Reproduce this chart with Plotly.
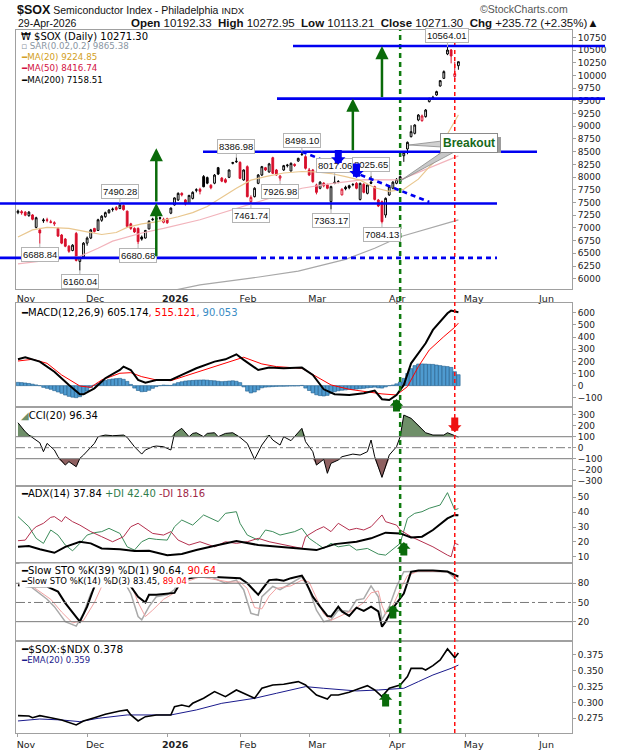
import numpy as np
import pandas as pd
import plotly.graph_objects as go
from plotly.subplots import make_subplots

# trading calendar (weekends and market holidays are skipped on the axis)
holidays = ["2025-11-27", "2025-12-25", "2026-01-01", "2026-01-19",
            "2026-02-16", "2026-04-03", "2026-05-25"]
dates = pd.bdate_range("2025-11-03", "2026-04-29", freq="C", holidays=holidays)

month_ticks = ["2025-11-03", "2025-12-01", "2026-01-02", "2026-02-02",
               "2026-03-02", "2026-04-01", "2026-05-01", "2026-06-01"]
month_labels = ["Nov", "Dec", "<b>2026</b>", "Feb", "Mar", "Apr", "May", "Jun"]

# daily OHLC, Nov | Dec | Jan | Feb | Mar | Apr
opens = [7300, 7320, 7310, 7240, 7255, 7010, 6960, 7140, 7160, 7120, 7080, 6990, 6860, 6780, 6640, 6555, 6890, 6340, 6430,
         6700, 6800, 6990, 6950, 7150, 7220, 7300, 7360, 7400, 7380, 7440, 7330, 7080, 6990, 6990, 6820, 6800, 6980, 7160, 7170, 7200, 7110,
         7180, 7290, 7450, 7550, 7680, 7550, 7480, 7580, 7740, 7760, 8010, 7990, 7840, 7880, 8185, 7980, 7950, 7995, 8270, 8300,
         8290, 7943, 8205, 7516, 7615, 7877, 8041, 8185, 8100, 8382, 8140, 7980, 8140, 8225, 8120, 8250, 8316, 8440, 8402,
         8140, 8140, 7845, 7780, 7880, 7850, 7517, 7900, 7905, 7650, 7800, 7830, 7850, 7877, 7560, 7860, 7680, 7900, 7812, 7549, 7517, 7254,
         7648, 7780, 7877, 7910, 8420, 8553, 8796, 8861, 9124, 9111, 9190, 9485, 9560, 9616, 9793, 9944, 10423, 10501, 9980, 10192.33]
highs = [7360, 7350, 7330, 7330, 7270, 7220, 7000, 7190, 7200, 7160, 7130, 7010, 6880, 6800, 6660, 6680, 6920, 6440, 6720,
         6830, 6980, 7000, 7180, 7250, 7320, 7370, 7400, 7430, 7490.28, 7460, 7340, 7100, 7010, 7010, 6850, 6960, 7150, 7200, 7200, 7220, 7200,
         7200, 7400, 7600, 7700, 7700, 7570, 7650, 7720, 7780, 7790, 8040, 8010, 7860, 8060, 8200, 8000, 7980, 8150, 8300, 8386.98,
         8310, 8150, 8230, 7640, 7800, 8060, 8220, 8200, 8280, 8400, 8160, 8040, 8240, 8260, 8290, 8270, 8380, 8498.10, 8430,
         8180, 8160, 7870, 7920, 7900, 7870, 7830, 8017.06, 7940, 7780, 7830, 7850, 7880, 7900, 7890, 7880, 7860, 8025.65, 7830, 7570, 7540, 7600,
         7830, 7920, 7980, 8030, 8510, 8700, 9020, 9040, 9240, 9230, 9340, 9560, 9600, 9700, 9910, 10100, 10564.01, 10520, 10270, 10272.95]
lows = [7270, 7260, 7230, 7220, 7150, 6990, 6688.84, 7100, 7110, 7090, 7040, 6820, 6680, 6620, 6510, 6540, 6340, 6160.04, 6410,
        6650, 6780, 6910, 6940, 7120, 7200, 7280, 7320, 7340, 7370, 7340, 7000, 6960, 6900, 6680.68, 6750, 6790, 6970, 7140, 7150, 7160, 7090,
        7080, 7270, 7440, 7530, 7620, 7440, 7470, 7560, 7700, 7660, 7800, 7860, 7760, 7860, 8040, 7900, 7880, 7980, 8250, 8280,
        7960, 7930, 7600, 7461.74, 7600, 7860, 8020, 8120, 8090, 8060, 8030, 7926.98, 8120, 8190, 8110, 8200, 8300, 8420, 8150,
        8020, 7890, 7660, 7760, 7800, 7760, 7363.17, 7860, 7880, 7640, 7740, 7760, 7820, 7760, 7540, 7680, 7660, 7860, 7540, 7410, 7084.13, 7200,
        7630, 7760, 7860, 7900, 8300, 8450, 8780, 8840, 9100, 9090, 9170, 9470, 9520, 9600, 9780, 9930, 10400, 10239, 9920, 10113.21]
closes = [7330, 7300, 7250, 7310, 7170, 7200, 6900, 7155, 7150, 7110, 7100, 6840, 6700, 6640, 6540, 6660, 6360, 6420, 6700,
          6800, 6960, 6930, 7160, 7230, 7300, 7350, 7370, 7360, 7450, 7360, 7030, 6990, 6920, 6730, 6780, 6950, 7130, 7170, 7185, 7190, 7170,
          7100, 7390, 7590, 7680, 7650, 7470, 7640, 7700, 7750, 7720, 7810, 7880, 7790, 8040, 8060, 7920, 7900, 8140, 8285, 8310,
          7975, 8140, 7615, 7600, 7780, 8041, 8205, 8140, 8260, 8074, 8041, 8020, 8225, 8235, 8270, 8230, 8369, 8450, 8173,
          8041, 7910, 7700, 7900, 7830, 7780, 7812, 7880, 7910, 7760, 7770, 7790, 7855, 7780, 7877, 7700, 7845, 7880, 7560, 7431, 7123, 7582,
          7812, 7900, 7956, 8009, 8480, 8684, 8894, 9025, 9222, 9203, 9320, 9550, 9570, 9682, 9898, 10075, 10501, 10383, 10035.58, 10271.30]

# moving averages (trading-day index, value)
ma20_days = [0, 4, 8, 14, 19, 23, 27, 30, 34, 38, 44, 48, 52, 56, 60, 64, 68, 73, 78, 82, 86, 90, 94, 98, 102, 106, 110, 113, 115, 118, 121]
ma20_vals = [6820, 6960, 7010, 6990, 6920, 6870, 6910, 7010, 7080, 7120, 7220, 7300, 7420, 7600, 7780, 7940, 8010, 8080, 8110, 8100,
             8070, 8010, 7940, 7790, 7720, 7760, 7960, 8200, 8340, 8850, 9224.85]
ma50_days = [0, 10, 17, 22, 26, 34, 40, 50, 60, 68, 78, 86, 95, 105, 112, 117, 121]
ma50_vals = [6290, 6370, 6440, 6600, 6740, 6900, 6990, 7160, 7380, 7570, 7780, 7870, 7950, 7945, 8150, 8300, 8416.74]
ma200_days = [42, 50, 64, 77, 90, 98, 105, 113, 121]
ma200_vals = [5760, 5877, 6010, 6150, 6380, 6600, 6827, 7000, 7158.51]

# MACD(12,26,9)
macd_days = [0, 2, 6, 10, 14, 17, 18, 21, 24, 28, 29, 31, 33, 35, 38, 42, 45, 49, 54, 57, 60, 62, 66, 69, 73, 78, 81, 84, 87, 91,
             95, 98, 100, 102, 104, 106, 108, 112, 114, 118, 119, 121]
macd_vals = [217, 234, 198, 115, 6, -71, -71, -22, 61, 129, 157, 129, 47, 25, 47, 47, 88, 143, 198, 217, 258, 212, 129, 149, 143,
             149, 88, -30, -71, -77, -63, -41, -112, -118, -77, 6, 184, 349, 459, 596, 618, 605.174]
signal_days = [0, 4, 8, 12, 17, 20, 23, 28, 31, 34, 38, 42, 46, 51, 58, 62, 67, 71, 78, 82, 86, 91, 96, 100, 104, 107, 110, 113,
               117, 120, 121]
signal_vals = [203, 217, 184, 88, -3, -14, 47, 102, 107, 74, 47, 41, 80, 129, 198, 234, 179, 157, 143, 74, 6, -30, -49, -68, -77,
               -8, 157, 294, 404, 481, 515.121]
macd_hist = [27, 25, 22, 18, 12, 6, 0, -14, -22, -30, -41, -52, -63, -77, -88, -95, -99, -91, -70, -45, -15,
             5, 20, 33, 42, 50, 55, 58, 60, 52, 35, 10, -20, -40, -50, -48, -38, -22, -8, 0, 5, 3, 2,
             15, 25, 32, 38, 41, 43, 45, 46, 47, 45, 42, 40, 36, 33, 35, 38, 40, 36, 25,
             -10, -45, -60, -52, -35, -18, -12, -10, -8, -6, -5, -5, -4, -3, -3, -2, 2,
             -20, -40, -60, -75, -82, -85, -80, -65, -50, -42, -38, -35, -30, -32, -28, -25, -22, -18,
             -15, -12, -18, -20, -10, 0, 5, 15, 30, 60, 100, 140, 165, 178, 179, 178, 176, 175,
             170, 165, 160, 157, 150, 115, 90.053]

# CCI(20)
cci_days = [0, 2, 3, 5, 6, 7, 8, 9, 10, 11, 13, 14, 16, 17, 18, 21, 22, 24, 26, 29, 30, 32, 34, 35, 37, 38, 40, 42, 43, 45, 47,
            48, 49, 51, 52, 54, 55, 57, 59, 61, 63, 65, 67, 69, 70, 72, 73, 75, 76, 78, 79, 81, 82, 84, 85, 86, 88, 89, 92, 94,
            96, 97, 98, 100, 102, 104, 105, 106, 108, 110, 112, 114, 117, 118, 120, 121]
cci_vals = [227, 145, 115, 70, 45, -36, 39, 9, -21, -82, -158, -127, -173, -97, -67, 39, 100, 115, 109, 115, 94, 9, -58, -21, 9,
            15, 9, -21, 130, 176, 100, 130, 136, 100, 130, 136, 100, 130, 136, 94, 39, -106, 24, 115, 70, 24, 100, 64, 100, 176,
            55, -36, -158, -106, -233, -142, -112, -82, -58, -67, -36, 70, -82, -270, -67, 9, 100, 297, 267, 206, 136, 115, 115,
            136, 106, 96.34]

# ADX(14), +DI, -DI
adx_days = [0, 3, 6, 10, 13, 17, 20, 23, 28, 32, 36, 41, 45, 49, 55, 60, 66, 71, 76, 82, 87, 93, 97, 101, 105, 108, 111, 114,
            118, 120, 121]
adx_vals = [16.7, 17.2, 15, 12.7, 16.7, 20.1, 19, 15.6, 15, 13.8, 14, 11.1, 11.8, 14.5, 17.9, 20.6, 17.9, 16.7, 15.6, 14.5, 18.5,
            20.1, 22.4, 26.2, 25.7, 23, 23.5, 28, 35.8, 38.1, 37.84]
pdi_days = [0, 3, 5, 7, 9, 11, 13, 15, 17, 19, 21, 23, 25, 28, 30, 32, 34, 36, 38, 41, 43, 45, 48, 51, 55, 57, 60, 61, 63, 66,
            68, 70, 72, 74, 76, 78, 80, 82, 84, 86, 88, 91, 93, 96, 99, 101, 104, 105, 107, 109, 111, 113, 116, 118, 120, 121]
pdi_vals = [37, 30.2, 22.4, 19, 28, 24.6, 17.9, 14, 19, 24.6, 26.2, 26.9, 29.1, 25.7, 16.7, 14.5, 20.1, 22.4, 21.7, 21.2, 30.2,
            34.7, 31.3, 38.1, 33.6, 39.2, 40.3, 32.5, 24.6, 21.2, 28, 26.9, 24.6, 25.7, 26.9, 29.1, 22.4, 19, 15.6, 19, 16.7, 17.9,
            14.5, 15.6, 11.8, 11.1, 16.7, 19, 35.8, 39.2, 40.3, 42.6, 44.8, 53.1, 41.5, 42.40]
mdi_days = [0, 2, 4, 5, 7, 9, 10, 12, 13, 15, 17, 20, 23, 26, 29, 31, 33, 35, 37, 40, 42, 44, 47, 50, 54, 57, 60, 63, 66, 69,
            73, 78, 79, 82, 84, 86, 88, 91, 93, 95, 97, 100, 101, 104, 105, 108, 111, 114, 118, 119, 120, 121]
mdi_vals = [20.8, 21.2, 28, 30.2, 32.5, 36.5, 37, 33.6, 37, 33.6, 31.3, 26.9, 23.5, 20.1, 23.5, 30.2, 32.5, 29.1, 25.7, 24.6,
            26.9, 21.2, 17.9, 20.1, 16.7, 20.1, 19, 20.1, 22.4, 20.1, 17.9, 15.6, 23.5, 28, 30.2, 26.9, 32.5, 28, 29.1, 28, 30.2,
            38.1, 33.6, 31.3, 28, 23.5, 20.1, 16.7, 11.1, 10, 19, 18.16]

# Slow stochastics
sto39_days = [0, 3, 8, 11, 13, 16, 17, 19, 21, 24, 27, 31, 33, 35, 36, 38, 41, 43, 45, 49, 54, 58, 61, 63, 66, 67, 69, 71, 73,
              75, 78, 79, 81, 83, 85, 86, 88, 89, 91, 93, 95, 97, 99, 100, 101, 103, 104, 106, 108, 110, 114, 118, 120, 121]
sto39_vals = [77, 75, 75, 67, 49, 28, 20, 43.5, 75, 92, 92, 75, 59, 50, 62, 62, 64, 65, 85, 90, 90, 89, 88, 80, 62, 70, 85, 86,
              84, 88, 92, 83, 59, 43.5, 29, 28, 43.5, 36, 29, 42, 37, 43.5, 36, 12, 20, 41, 49, 64, 98, 99.8, 99.8, 98.3, 93, 90.64]
stok_days = [0, 3, 8, 10, 13, 16, 18, 20, 22, 24, 28, 31, 33, 34, 36, 38, 41, 43, 44, 49, 53, 57, 60, 62, 64, 66, 67, 70, 72,
             74, 78, 80, 82, 84, 86, 88, 91, 93, 95, 97, 99, 100, 102, 104, 106, 110, 118, 120, 121]
stok_vals = [80, 77, 55, 43.5, 20, 13, 33, 64, 83, 95, 95, 64, 28, 23, 43.5, 59, 62, 70, 85, 90, 90, 80, 85, 70, 33, 30, 59, 75,
             70, 77, 90, 70, 38, 20, 23, 38, 36, 54, 56, 76, 59, 23, 43.5, 75, 98, 99, 98, 88, 83.45]
stod_days = [0, 4, 9, 12, 15, 18, 21, 23, 26, 31, 33, 35, 37, 40, 43, 45, 50, 58, 61, 63, 65, 67, 69, 71, 75, 78, 80, 82, 84,
             86, 89, 92, 95, 97, 99, 100, 101, 103, 105, 107, 110, 118, 120, 121]
stod_vals = [78, 75, 55, 35, 18, 22, 50, 75, 92, 80, 50, 28, 38, 55, 65, 80, 90, 82, 82, 72, 42, 40, 60, 72, 76, 85, 82, 58, 32,
             22, 30, 38, 50, 65, 68, 45, 32, 45, 70, 92, 99, 98, 94, 89.04]

# $SOX:$NDX ratio and its EMA(20)
ratio_days = [0, 3, 4, 6, 9, 12, 16, 18, 21, 24, 28, 30, 31, 33, 35, 38, 42, 43, 45, 47, 48, 51, 54, 56, 57, 60, 62, 65, 67, 70,
              73, 77, 79, 82, 85, 86, 88, 91, 94, 96, 98, 100, 102, 105, 107, 108, 111, 112, 114, 116, 118, 120, 121]
ratio_vals = [0.2792, 0.2787, 0.276, 0.2792, 0.276, 0.2724, 0.2645, 0.2708, 0.276, 0.2813, 0.2866, 0.2882, 0.2803, 0.2708,
              0.2776, 0.2803, 0.2803, 0.2934, 0.2961, 0.2934, 0.2987, 0.3066, 0.3171, 0.3118, 0.3092, 0.3197, 0.3145, 0.3066,
              0.3224, 0.3276, 0.3287, 0.3329, 0.3276, 0.3118, 0.3055, 0.3118, 0.3118, 0.3161, 0.3224, 0.3266, 0.3197, 0.3092,
              0.3224, 0.3276, 0.3408, 0.3539, 0.3539, 0.3513, 0.3582, 0.3671, 0.3845, 0.3708, 0.378]
ema_days = [0, 6, 12, 17, 22, 30, 42, 49, 56, 65, 71, 79, 84, 93, 99, 106, 110, 114, 119, 121]
ema_vals = [0.2708, 0.2739, 0.2724, 0.2697, 0.275, 0.2803, 0.2803, 0.2882, 0.2987, 0.3066, 0.3145, 0.325, 0.3224, 0.3182,
            0.3197, 0.3224, 0.3329, 0.3434, 0.3539, 0.359]

# trend lines drawn on the chart
support_levels = [10580, 9545, 8498, 7480, 6410]
measured_moves = [(38, 6410, 7490), (38, 7490, 8570), (92, 8498, 9545), (100, 9545, 10580)]
high_labels = [28, 60, 78, 87, 97, 118]
low_labels = [6, 17, 33, 64, 72, 86, 100]

FONT = "DejaVu Sans"
ARIAL = "Liberation Sans"
BLUE = "#0000f0"
GREEN = "#0a6b0a"


def px(x):  # pixel -> paper (plot area is x 16..572, y 30..733)
    return (x - 16) / 556


def py(y):
    return (733 - y) / 703


def d(days):
    return dates[np.array(days)]


fig = make_subplots(rows=6, cols=1, shared_xaxes=True, vertical_spacing=0)

# ---- price panel
o, h, l, c = map(np.array, (opens, highs, lows, closes))
prev = np.r_[c[0], c[:-1]]
up = c >= prev
for mask, col in [(up, "#000000"), (~up, "#d8102c")]:
    fig.add_trace(go.Candlestick(x=dates[mask], open=o[mask], high=h[mask], low=l[mask], close=c[mask],
                                 increasing=dict(line=dict(color=col, width=1), fillcolor="white"),
                                 decreasing=dict(line=dict(color=col, width=1), fillcolor=col),
                                 whiskerwidth=0, hoverinfo="skip", showlegend=False), row=1, col=1)
for days, vals, col in [(ma200_days, ma200_vals, "#a8a8a8"), (ma50_days, ma50_vals, "#f2b4bc"),
                        (ma20_days, ma20_vals, "#e9c78f")]:
    fig.add_trace(go.Scatter(x=d(days), y=vals, mode="lines", line=dict(color=col, width=1.2),
                             hoverinfo="skip", showlegend=False), row=1, col=1)

# ---- MACD
fig.add_trace(go.Bar(x=dates, y=macd_hist, marker=dict(color="#4f9bd0", line=dict(color="#1f5d8c", width=0.6)),
                     hoverinfo="skip", showlegend=False), row=2, col=1)
fig.add_trace(go.Scatter(x=d(signal_days), y=signal_vals, mode="lines", line=dict(color="#ff0000", width=1),
                         hoverinfo="skip", showlegend=False), row=2, col=1)
fig.add_trace(go.Scatter(x=d(macd_days), y=macd_vals, mode="lines", line=dict(color="black", width=2),
                         hoverinfo="skip", showlegend=False), row=2, col=1)

# ---- CCI
cci = np.array(cci_vals, dtype=float)
cx = d(cci_days)
for base, band, col in [(100, np.maximum(cci, 100), "#6f8f69"), (-100, np.minimum(cci, -100), "#8e6060")]:
    fig.add_trace(go.Scatter(x=cx, y=[base] * len(cx), mode="lines", line=dict(width=0),
                             hoverinfo="skip", showlegend=False), row=3, col=1)
    fig.add_trace(go.Scatter(x=cx, y=band, mode="lines", line=dict(width=0), fill="tonexty", fillcolor=col,
                             hoverinfo="skip", showlegend=False), row=3, col=1)
fig.add_trace(go.Scatter(x=cx, y=cci, mode="lines", line=dict(color="black", width=1),
                         hoverinfo="skip", showlegend=False), row=3, col=1)

# ---- ADX
for days, vals, col, w in [(pdi_days, pdi_vals, "#3c8c5a", 1), (mdi_days, mdi_vals, "#b4304e", 1),
                           (adx_days, adx_vals, "black", 2)]:
    fig.add_trace(go.Scatter(x=d(days), y=vals, mode="lines", line=dict(color=col, width=w),
                             hoverinfo="skip", showlegend=False), row=4, col=1)

# ---- Slow STO
for days, vals, col, w in [(stok_days, stok_vals, "#a9a9a9", 1.5), (stod_days, stod_vals, "#f2a2a2", 1),
                           (sto39_days, sto39_vals, "black", 2)]:
    fig.add_trace(go.Scatter(x=d(days), y=vals, mode="lines", line=dict(color=col, width=w),
                             hoverinfo="skip", showlegend=False), row=5, col=1)

# ---- ratio
fig.add_trace(go.Scatter(x=d(ema_days), y=ema_vals, mode="lines", line=dict(color="#1a1a8c", width=1),
                         hoverinfo="skip", showlegend=False), row=6, col=1)
fig.add_trace(go.Scatter(x=d(ratio_days), y=ratio_vals, mode="lines", line=dict(color="black", width=1.6),
                         hoverinfo="skip", showlegend=False), row=6, col=1)

# ---- axes
fig.update_xaxes(type="date", range=["2025-10-31 11:00", "2026-06-12 05:00"],
                 rangebreaks=[dict(bounds=["sat", "mon"]), dict(values=holidays)],
                 rangeslider_visible=False, showgrid=False, zeroline=False,
                 showline=True, mirror=True, linecolor="#a0a0a0", linewidth=1,
                 tickvals=month_ticks, ticktext=month_labels, ticks="", showticklabels=False,
                 ticklabelshift=8, tickfont=dict(family=FONT, size=9.5, color="#222"))
fig.update_xaxes(showticklabels=True, row=1, col=1)
fig.update_xaxes(showticklabels=True, ticks="outside", ticklen=3, tickcolor="#a0a0a0", row=6, col=1)

axis_specs = [
    (1, [0.6309, 1.0], [5788, 10895], list(range(6000, 10751, 250)), "d"),
    (2, [0.4637, 0.6117], [-176, 681], list(range(-100, 601, 100)), "d"),
    (3, [0.3514, 0.4637], [-348, 370], list(range(-300, 301, 100)), "d"),
    (4, [0.2418, 0.3514], [5.8, 57.6], [10, 20, 30, 40, 50], "d"),
    (5, [0.1309, 0.2418], [-10.2, 111.7], [20, 50, 80], "d"),
    (6, [0.0, 0.1309], [0.2518, 0.3971], [0.275, 0.3, 0.325, 0.35, 0.375], ".3f"),
]
for r, dom, rng, tv, fmt in axis_specs:
    fig.update_yaxes(domain=dom, range=rng, tickvals=tv, tickformat=fmt, side="right",
                     showgrid=False, zeroline=False, showline=True, mirror=True,
                     linecolor="#a0a0a0", linewidth=1, ticks="outside", ticklen=3, tickcolor="#a0a0a0",
                     tickfont=dict(family=FONT, size=9, color="#222"), row=r, col=1)

# reference lines in CCI and STO panels
for y, dash in [(100, "solid"), (-100, "solid"), (0, "dashdot")]:
    fig.add_hline(y=y, line=dict(color="#7a7a7a", width=1, dash=dash), row=3, col=1)
for y, dash in [(80, "solid"), (20, "solid"), (50, "dashdot")]:
    fig.add_hline(y=y, line=dict(color="#7a7a7a", width=1, dash=dash), row=5, col=1)

# vertical event lines across all panels
fig.add_shape(type="line", xref="x", yref="paper", x0=dates[105], x1=dates[105], y0=0, y1=1.0,
              line=dict(color="#0f7a0f", width=2.5, dash="5px,4px"))
fig.add_shape(type="line", xref="x", yref="paper", x0=dates[120], x1=dates[120], y0=0, y1=0.985,
              line=dict(color="#ff1010", width=1.5, dash="4px,3px"))

# support / resistance lines
extents = [(293, 605), (277, 605), (203, 537), (0, 497), (0, 252)]
for lvl, (x0, x1) in zip(support_levels, extents):
    fig.add_shape(type="line", xref="paper", yref="y", x0=px(x0), x1=px(x1), y0=lvl, y1=lvl,
                  line=dict(color=BLUE, width=2.6))
fig.add_shape(type="line", xref="paper", yref="y", x0=px(252), x1=px(497), y0=support_levels[-1],
              y1=support_levels[-1], line=dict(color=BLUE, width=2.6, dash="5px,4px"))
# falling trend line from the Feb high
fig.add_shape(type="line", xref="x", yref="y", x0=dates[78], x1=dates[113], y0=highs[78], y1=7510,
              line=dict(color=BLUE, width=2.6, dash="5px,4px"))

ann = []

# high / low value tags (drawn first so the arrows sit on top of them)
box = dict(bgcolor="white", bordercolor="#b4b4b4", borderwidth=1, borderpad=1,
           font=dict(family=ARIAL, size=9.5, color="#111"), showarrow=True, arrowhead=0,
           arrowwidth=1, arrowcolor="#b4b4b4", xref="x", yref="y", ax=0)
for i in high_labels:
    ann.append(dict(box, x=dates[i], y=highs[i], ay=-11, text=f"{highs[i]:.2f}"))
for i in low_labels:
    ann.append(dict(box, x=dates[i], y=lows[i], ay=11, text=f"{lows[i]:.2f}"))

# measured-move arrows
for day, y0, y1 in measured_moves:
    ann.append(dict(x=dates[day], y=y1, ax=dates[day], ay=y0, xref="x", yref="y", axref="x", ayref="y",
                    text="", showarrow=True, arrowhead=2, arrowsize=1.05, arrowwidth=2.5, arrowcolor=GREEN))


def block_arrow(day, y, yref, dy, color, w=7, size=0.32):
    ann.append(dict(x=dates[day], y=y, xref="x", yref=yref, ax=0, ay=dy, text="", showarrow=True,
                    arrowhead=1, arrowsize=size, arrowwidth=w, arrowcolor=color))


block_arrow(88, 8250, "y", -16, BLUE, 7, 0.34)
block_arrow(93, 7980, "y", -16, BLUE, 7, 0.34)
block_arrow(104, -110, "y2", 14, GREEN)
block_arrow(120, 143, "y3", -16, "#ee1111")
block_arrow(106, 19.9, "y4", 15, GREEN)
block_arrow(103, 46, "y5", 15, GREEN)
block_arrow(101, 0.315, "y6", 15, GREEN)

# breakout call-out
fig.add_shape(type="path", xref="paper", yref="paper", layer="above",
              path=f"M{px(409)},{py(145)} L{px(442)},{py(141)} L{px(442)},{py(147)} Z",
              fillcolor="#d0d0d0", line=dict(color="#8a8a8a", width=0.8))
fig.add_shape(type="path", xref="paper", yref="paper", layer="above",
              path=f"M{px(400)},{py(181)} L{px(445)},{py(150)} L{px(458)},{py(150)} Z",
              fillcolor="#c8c8c8", line=dict(color="#8a8a8a", width=0.8))
fig.add_shape(type="rect", xref="paper", yref="paper", layer="above",
              x0=px(443), x1=px(501), y0=py(153), y1=py(137), fillcolor="#9c9c9c", line=dict(width=0))
ann.append(dict(x=px(469), y=py(143), xref="paper", yref="paper", xanchor="center", yanchor="middle",
                text="<b>Breakout</b>", showarrow=False,
                font=dict(family=ARIAL, size=12, color="#17691a"), bgcolor="white",
                bordercolor="#8a8a8a", borderwidth=1, borderpad=2))


def label(x, y, text, size=10, color="black", family=FONT, anchor="left", bg=None):
    a = dict(x=px(x), y=py(y), xref="paper", yref="paper", text=text, showarrow=False,
             xanchor=anchor, yanchor="middle", font=dict(family=family, size=size, color=color))
    if bg:
        a["bgcolor"] = bg
    ann.append(a)


# header
label(15, 9.5, "<span style='font-size:12.5px'><b>$SOX</b></span> Semiconductor Index - Philadelphia "
               "<span style='font-size:9.5px'>INDX</span>", size=10.5, family=ARIAL, color="#111")
label(570, 9, "©StockCharts.com", size=10.5, family=ARIAL, color="#555", anchor="right")
label(16, 23.5, "29-Apr-2026", size=10.5, family=ARIAL, color="#111")
label(601, 23.5, "<b>Open</b> 10192.33  <b>High</b> 10272.95  <b>Low</b> 10113.21  <b>Close</b> 10271.30  "
                 "<b>Chg</b> +235.72 (+2.35%)▲", size=11.5, family=ARIAL, color="#111", anchor="right")

# panel legends
label(19, 36, "₩ $SOX (Daily) 10271.30", size=10)
label(19, 46.5, "▫ SAR(0.02,0.2) 9865.38", size=8.7, color="#8a96a3")
label(19, 57.5, "<b>━</b>MA(20) 9224.85", size=8.7, color="#d3a024")
label(19, 68.5, "<b>━</b>MA(50) 8416.74", size=8.7, color="#d21042")
label(19, 79.5, "<b>━</b>MA(200) 7158.51", size=8.7, color="black")
label(19, 312, "<b>━</b>MACD(12,26,9) 605.174<span style='color:#ff0000'>, 515.121</span>"
               "<span style='color:#3a8cc4'>, 90.053</span>", size=10)
label(19, 415, "<span style='color:#6f8f69'>◢</span>CCI(20) 96.34", size=10)
label(19, 493, "<b>━</b>ADX(14) 37.84 <span style='color:#2f7d4c'>+DI 42.40</span> "
               "<span style='color:#a02848'>-DI 18.16</span>", size=10)
label(19, 570, "<b>━</b>Slow STO %K(39) %D(1) 90.64, <span style='color:#ff0000'>90.64</span>", size=10, bg="white")
label(19, 580.5, "<b>━</b>Slow STO %K(14) %D(3) 83.45, <span style='color:#ff0000'>89.04</span>", size=8.5, bg="white")
label(19, 649, "<b>━</b>$SOX:$NDX 0.378", size=10.5)
label(19, 659.5, "<span style='color:#1a1a8c'><b>━</b>EMA(20) 0.359</span>", size=8.5)

fig.update_layout(width=620, height=750, margin=dict(l=16, r=48, t=30, b=17, autoexpand=False),
                  paper_bgcolor="white", plot_bgcolor="white", showlegend=False,
                  bargap=0.05, annotations=ann, hovermode=False)

# the page's default body margin would push the figure 8px right/down
fig.write_html("out.html", config={"displayModeBar": False},
               post_script="document.body.style.margin='0px';")
